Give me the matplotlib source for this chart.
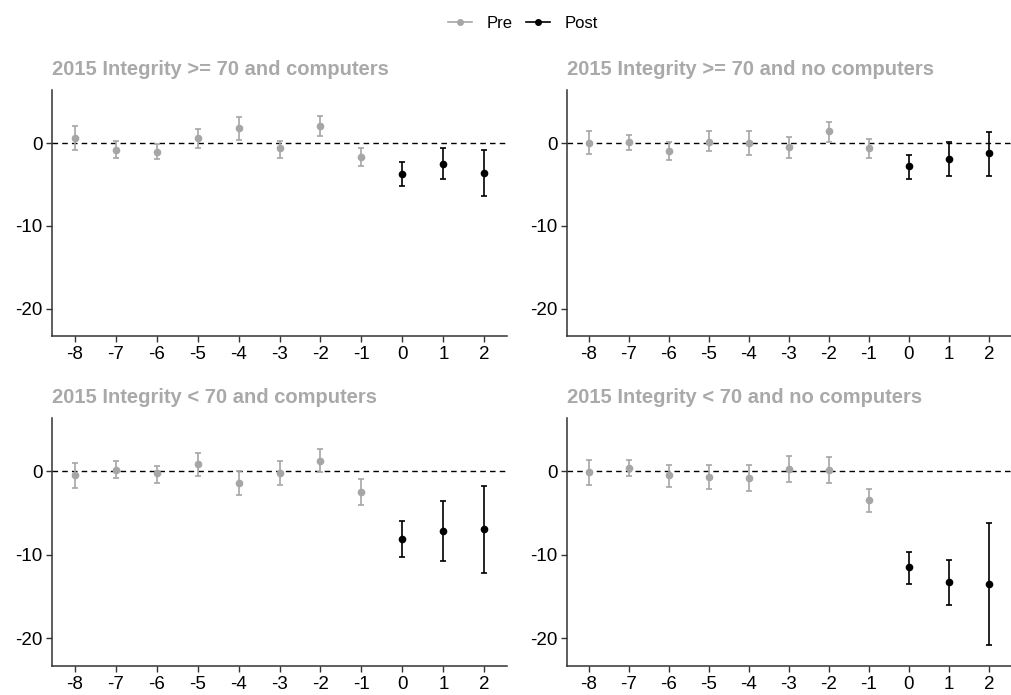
import numpy as np
import matplotlib.pyplot as plt
from matplotlib.lines import Line2D

plt.rcParams['font.family'] = ['Liberation Sans', 'DejaVu Sans']
plt.rcParams['axes.unicode_minus'] = False

years = [-8, -7, -6, -5, -4, -3, -2, -1, 0, 1, 2]
titles = [
    "2015 Integrity >= 70 and computers",
    "2015 Integrity >= 70 and no computers",
    "2015 Integrity < 70 and computers",
    "2015 Integrity < 70 and no computers",
]
est = [
    [0.6, -0.8, -1.08, 0.6, 1.84, -0.6, 2.0, -1.72, -3.73, -2.48, -3.57],
    [0.0, 0.16, -0.96, 0.16, 0.0, -0.48, 1.4, -0.64, -2.8, -1.88, -1.24],
    [-0.44, 0.12, -0.24, 0.92, -1.4, -0.16, 1.24, -2.49, -8.07, -7.15, -6.87],
    [-0.12, 0.44, -0.48, -0.64, -0.8, 0.28, 0.12, -3.41, -11.49, -13.21, -13.49],
]
ci_hi = [
    [2.0, 0.28, -0.12, 1.68, 3.13, 0.28, 3.29, -0.64, -2.32, -0.64, -0.8],
    [1.4, 0.96, 0.08, 1.4, 1.4, 0.76, 2.48, 0.44, -1.4, 0.16, 1.36],
    [0.96, 1.24, 0.64, 2.17, 0.08, 1.24, 2.65, -0.96, -5.9, -3.57, -1.73],
    [1.37, 1.37, 0.76, 0.76, 0.76, 1.85, 1.69, -2.05, -9.64, -10.56, -6.22],
]
ci_lo = [
    [-0.84, -1.8, -1.96, -0.56, 0.36, -1.8, 0.84, -2.73, -5.17, -4.37, -6.41],
    [-1.28, -0.84, -2.04, -1.0, -1.4, -1.8, 0.08, -1.8, -4.37, -3.93, -3.93],
    [-1.93, -0.84, -1.4, -0.52, -2.81, -1.57, -0.12, -4.06, -10.24, -10.72, -12.13],
    [-1.57, -0.52, -1.89, -2.05, -2.37, -1.24, -1.4, -4.82, -13.53, -15.98, -20.8],
]

PRE = '#A6A6A6'
POST = '#000000'


def draw(ax, k):
    x = np.array(years)
    y = np.array(est[k])
    lo = np.array(ci_lo[k])
    hi = np.array(ci_hi[k])
    ax.axhline(0, color='black', lw=1, ls=(0, (4, 3)), zorder=1)
    for mask, col in [(x < 0, PRE), (x >= 0, POST)]:
        ax.errorbar(x[mask], y[mask], yerr=[y[mask] - lo[mask], hi[mask] - y[mask]],
                    fmt='o', color=col, ms=4.5, elinewidth=1.2, capsize=2,
                    capthick=1.2, zorder=3)
    ax.set_xlim(-8.55, 2.55)
    ax.set_ylim(-23.3, 6.4)
    ax.set_xticks(years)
    ax.set_yticks([0, -10, -20])
    ax.spines['top'].set_visible(False)
    ax.spines['right'].set_visible(False)
    for s in ['left', 'bottom']:
        ax.spines[s].set_color('#333333')
        ax.spines[s].set_linewidth(1.1)
    ax.tick_params(labelsize=13.5, colors='#333333', labelcolor='black',
                   length=4, width=1, pad=3)
    ax.set_title(titles[k], loc='left', fontsize=14.5, fontweight='bold',
                 color='#A9A9A9', pad=11)


def main():
    fig = plt.figure(figsize=(10.12, 6.95), dpi=100)
    W, H = 1012, 695
    boxes = [(52, 90, 507, 336), (567, 90, 1011, 336),
             (52, 418, 507, 666), (567, 418, 1011, 666)]
    for k, (l, t, r, b) in enumerate(boxes):
        ax = fig.add_axes([l / W, 1 - b / H, (r - l) / W, (b - t) / H])
        draw(ax, k)

    handles = [Line2D([], [], color=PRE, marker='o', ms=4, lw=1.2),
               Line2D([], [], color=POST, marker='o', ms=4, lw=1.2)]
    fig.legend(handles, ['Pre', 'Post'], loc='center', bbox_to_anchor=(523 / W, 1 - 23 / H),
               ncol=2, frameon=False, fontsize=12, handlelength=1.45,
               columnspacing=0.8, handletextpad=0.85)
    fig.savefig('out.png', dpi=100)


if __name__ == "__main__":
    main()
